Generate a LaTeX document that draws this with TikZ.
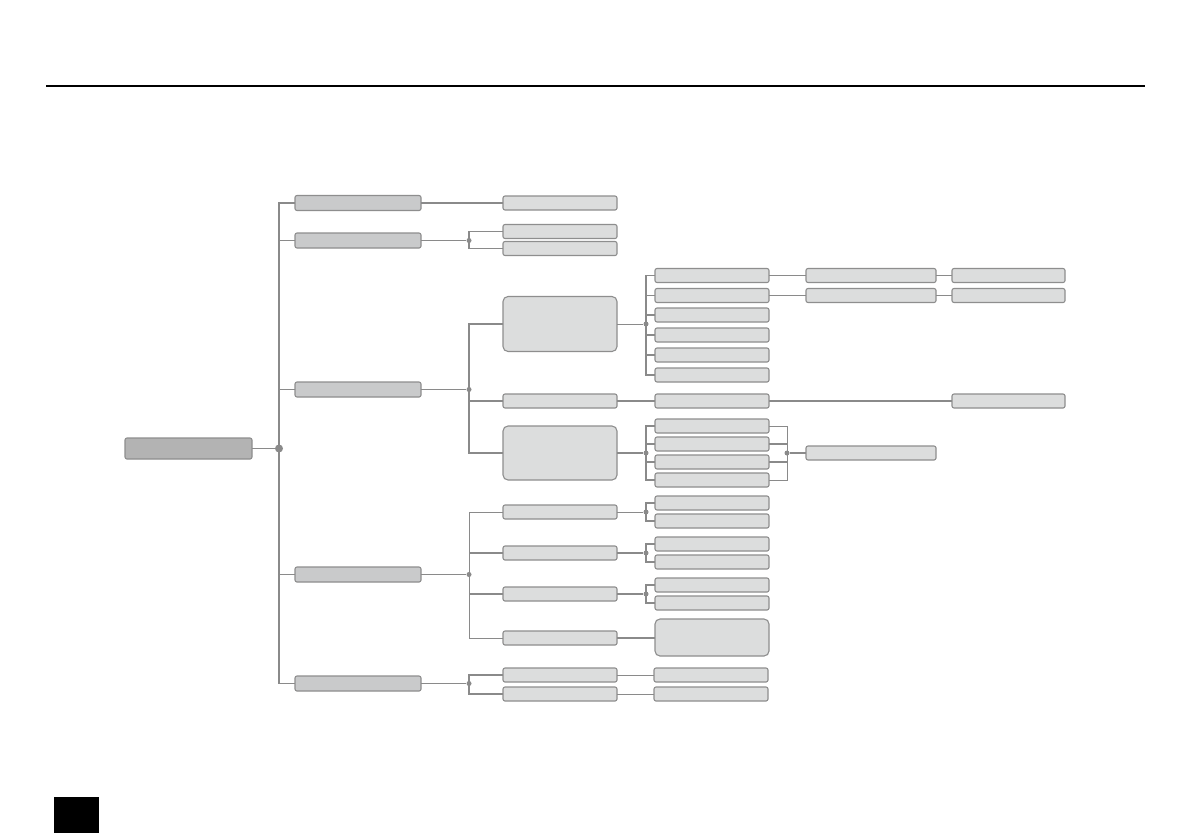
\documentclass[tikz,border=0pt]{standalone}
\usepackage{tikz}
\begin{document}
\begin{tikzpicture}[x=1pt,y=-1pt,
  bx/.style={draw=boxline,line width=1.1pt,rounded corners=2pt,inner sep=0pt,outer sep=0pt,fill=lvfill,minimum width=114pt,minimum height=14pt},
  rootbox/.style={bx,fill=rootfill,minimum width=127pt,minimum height=21pt},
  lone/.style={bx,fill=onefill,minimum width=126pt,minimum height=15pt},
  bigbox/.style={bx,rounded corners=5pt,minimum height=55pt},
  wide/.style={bx,minimum width=130pt},
  lfour/.style={bx,minimum width=113pt},
  ln/.style={draw=lncol,line width=1.3pt},
  thin/.style={draw=lncol,line width=0.9pt},
  dot/.style={circle,fill=lncol,inner sep=0pt,minimum size=5pt},
  bigdot/.style={circle,fill=lncol,inner sep=0pt,minimum size=8pt}]
\definecolor{boxline}{HTML}{8E8E8E}
\definecolor{lvfill}{HTML}{DCDDDD}
\definecolor{onefill}{HTML}{C9CACB}
\definecolor{rootfill}{HTML}{B3B3B3}
\definecolor{lncol}{HTML}{8A8A8A}
\useasboundingbox (0,0) rectangle (1191,839);
\fill[white] (0,0) rectangle (1191,839);
% header rule and page mark
\draw[black,line width=1.4pt] (46,86) -- (1145,86);
\fill[black] (54,797) rectangle (99,833);
% root
\node[rootbox] (root) at (188.5,448.5) {};
\node[bigdot] (d0) at (279,448.5) {};
% level 1
\node[lone] (la) at (358,203) {};
\node[lone] (lb) at (358,240.5) {};
\node[lone] (lc) at (358,389.5) {};
\node[lone] (ld) at (358,574.5) {};
\node[lone] (le) at (358,683.5) {};
% level 2
\node[bx] (a1) at (560,203) {};
\node[bx] (b1) at (560,231.5) {};
\node[bx] (b2) at (560,248.5) {};
\node[bigbox] (c1) at (560,324) {};
\node[bx] (c2) at (560,401) {};
\node[bigbox,minimum height=54pt] (c3) at (560,453) {};
\node[bx] (e1) at (560,512) {};
\node[bx] (e2) at (560,553) {};
\node[bx] (e3) at (560,594) {};
\node[bx] (e4) at (560,638) {};
\node[bx] (f1) at (560,675) {};
\node[bx] (f2) at (560,694) {};
% level 3
\node[bx] (c1a) at (712,275.5) {};
\node[bx] (c1b) at (712,295.5) {};
\node[bx] (c1c) at (712,315) {};
\node[bx] (c1d) at (712,335) {};
\node[bx] (c1e) at (712,355) {};
\node[bx] (c1f) at (712,375) {};
\node[bx] (c2a) at (712,401) {};
\node[bx] (c3a) at (712,426) {};
\node[bx] (c3b) at (712,444) {};
\node[bx] (c3c) at (712,462) {};
\node[bx] (c3d) at (712,480) {};
\node[bx] (e1a) at (712,503) {};
\node[bx] (e1b) at (712,521) {};
\node[bx] (e2a) at (712,544) {};
\node[bx] (e2b) at (712,562) {};
\node[bx] (e3a) at (712,585) {};
\node[bx] (e3b) at (712,603) {};
\node[bigbox,minimum height=37pt] (e4a) at (712,637.5) {};
\node[bx] (f1a) at (711,675) {};
\node[bx] (f2a) at (711,694) {};
% level 4 and 5
\node[wide] (w1) at (871,275.5) {};
\node[wide] (w2) at (871,295.5) {};
\node[wide] (w3) at (871,453) {};
\node[lfour] (v1) at (1008.5,275.5) {};
\node[lfour] (v2) at (1008.5,295.5) {};
\node[lfour] (v3) at (1008.5,401) {};
% fork dots
\node[dot] (db) at (469,240.5) {};
\node[dot] (dc) at (469,389.5) {};
\node[dot] (dd) at (469,574.5) {};
\node[dot] (de) at (469,683.5) {};
\node[dot] (dc1) at (646,324) {};
\node[dot] (dc3) at (646,453) {};
\node[dot] (dm) at (787,453) {};
\node[dot] (de1) at (646,512) {};
\node[dot] (de2) at (646,553) {};
\node[dot] (de3) at (646,594) {};
% trunk
\draw[ln] (root.east) -- (d0);
\draw[ln] (la.west) -- (d0 |- la.west) -- (d0 |- le.west) -- (le.west);
\draw[ln] (lb.west) -- (d0 |- lb.west);
\draw[ln] (lc.west) -- (d0 |- lc.west);
\draw[ln] (ld.west) -- (d0 |- ld.west);
% group A
\draw[ln] (la.east) -- (a1.west);
% group B
\draw[thin] (lb.east) -- (db);
\draw[ln] (b1.west) -- (db |- b1.west) -- (db |- b2.west) -- (b2.west);
% group C
\draw[thin] (lc.east) -- (dc);
\draw[ln] (c1.west) -- (dc |- c1.west) -- (dc |- c3.west) -- (c3.west);
\draw[ln] (dc) |- (c2.west);
\draw[thin] (c1.east) -- (dc1);
\draw[ln] (c1a.west) -- (dc1 |- c1a.west) -- (dc1 |- c1f.west) -- (c1f.west);
\foreach \n in {c1b,c1c,c1d,c1e} \draw[ln] (\n.west) -- (dc1 |- \n.west);
\draw[thin] (c1a.east) -- (w1.west);
\draw[thin] (c1b.east) -- (w2.west);
\draw[thin] (w1.east) -- (v1.west);
\draw[thin] (w2.east) -- (v2.west);
\draw[ln] (c2.east) -- (c2a.west);
\draw[ln] (c2a.east) -- (v3.west);
\draw[ln] (c3.east) -- (dc3);
\draw[ln] (c3a.west) -- (dc3 |- c3a.west) -- (dc3 |- c3d.west) -- (c3d.west);
\draw[ln] (c3b.west) -- (dc3 |- c3b.west);
\draw[ln] (c3c.west) -- (dc3 |- c3c.west);
\draw[thin] (c3a.east) -- (dm |- c3a.east) -- (dm |- c3d.east) -- (c3d.east);
\draw[ln] (c3b.east) -- (dm |- c3b.east);
\draw[ln] (c3c.east) -- (dm |- c3c.east);
\draw[ln] (dm) -- (w3.west);
% group D
\draw[ln] (ld.east) -- (dd);
\draw[thin] (e1.west) -- (dd |- e1.west) -- (dd |- e4.west) -- (e4.west);
\draw[ln] (e2.west) -- (dd |- e2.west);
\draw[ln] (e3.west) -- (dd |- e3.west);
\draw[thin] (e1.east) -- (de1);
\draw[ln] (e1a.west) -- (de1 |- e1a.west) -- (de1 |- e1b.west) -- (e1b.west);
\draw[ln] (e2.east) -- (de2);
\draw[ln] (e2a.west) -- (de2 |- e2a.west) -- (de2 |- e2b.west) -- (e2b.west);
\draw[ln] (e3.east) -- (de3);
\draw[ln] (e3a.west) -- (de3 |- e3a.west) -- (de3 |- e3b.west) -- (e3b.west);
\draw[ln] (e4.east) -- (e4a.west |- e4.east);
% group E
\draw[ln] (le.east) -- (de);
\draw[ln] (f1.west) -- (de |- f1.west) -- (de |- f2.west) -- (f2.west);
\draw[thin] (f1.east) -- (f1a.west);
\draw[thin] (f2.east) -- (f2a.west);
\end{tikzpicture}
\end{document}
